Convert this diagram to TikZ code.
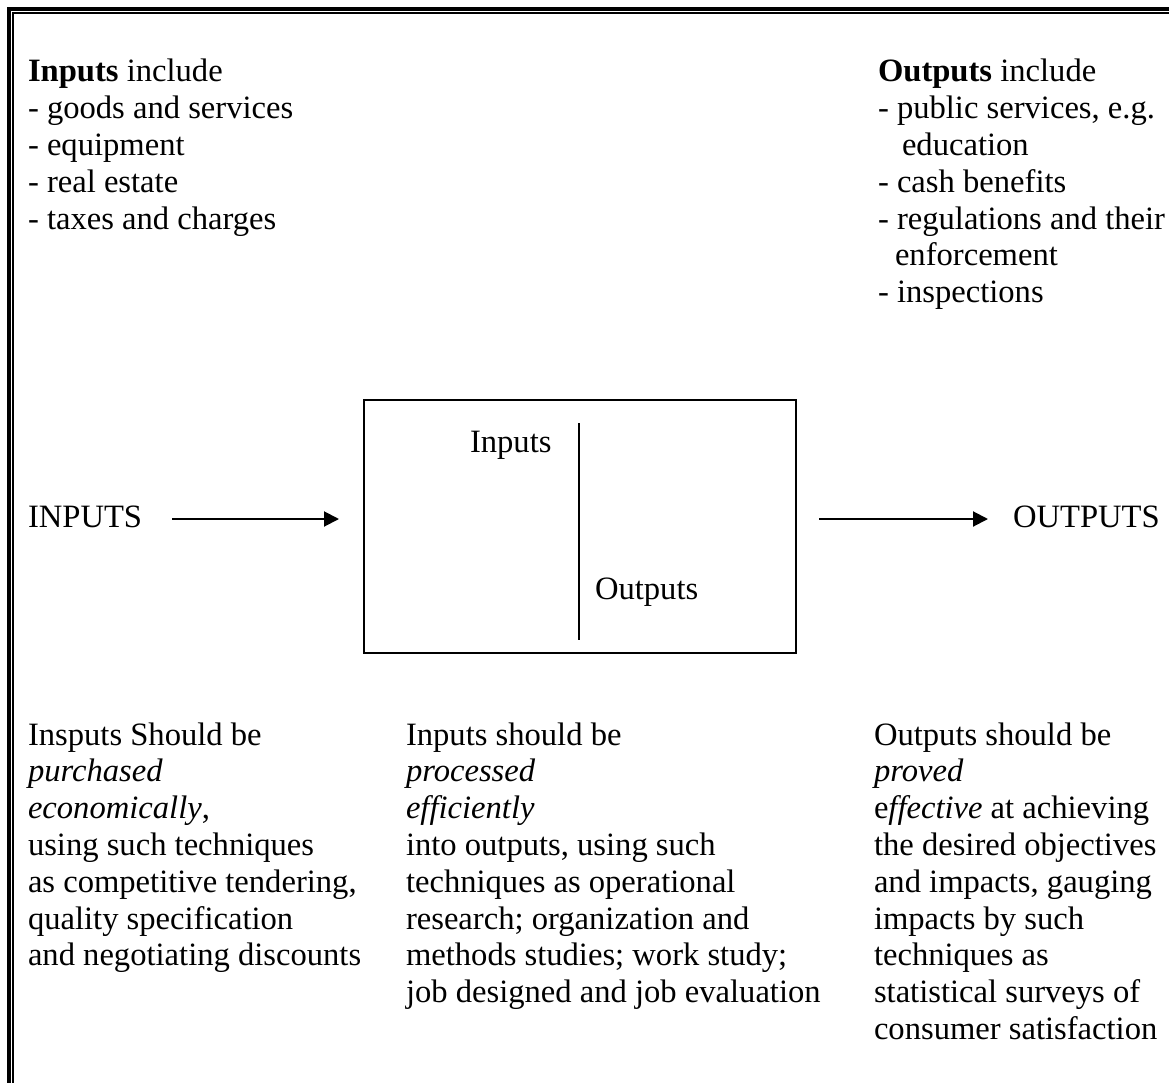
\documentclass[tikz,border=0pt]{standalone}
\usepackage{fontspec}
\setmainfont{Liberation Serif}
\usetikzlibrary{arrows.meta}

% text block whose base anchor is the baseline of its first line
\newcommand{\txtblock}[1]{\parbox[t]{420pt}{\raggedright #1}}

\begin{document}
\begin{tikzpicture}[x=1pt,y=-1pt,
  every node/.style={inner sep=0pt, outer sep=0pt,
    font=\fontsize{32.6}{36.8}\selectfont},
  txt/.style={anchor=base west},
  frameline/.style={line join=miter, line cap=butt},
  flow/.style={line width=2pt, -{Triangle[length=15pt,width=15pt]}},
  procbox/.style={draw, line width=2pt, minimum width=432pt, minimum height=253pt}
]
\useasboundingbox (0,0) rectangle (1169,1083);
\fill[white] (0,0) rectangle (1169,1083);

% double page frame (left and top)
\draw[frameline, line width=4.3pt] (9,1083) -- (9,9) -- (1169,9);
\draw[frameline, line width=1.8pt] (13.1,1083) -- (13.1,13.1) -- (1169,13.1);

% input / output lists
\node[txt] (inlist) at (28,82) {\txtblock{%
  \textbf{Inputs} include\\
  - goods and services\\
  - equipment\\
  - real estate\\
  - taxes and charges}};

\node[txt] (outlist) at (878,82) {\txtblock{%
  \textbf{Outputs} include\\
  - public services, e.g.\\
  \hspace*{24pt}education\\
  - cash benefits\\
  - regulations and their\\
  \hspace*{17pt}enforcement\\
  - inspections}};

% process box
\node[procbox] (box) at (580,526.5) {};
\draw[line width=2pt] ([xshift=-1pt,yshift=-23pt]box.north) -- ([xshift=-1pt,yshift=13pt]box.south);
\node[txt] (boxin) at (470,452) {Inputs};
\node[txt] (boxout) at (595,599) {Outputs};

% flow labels and arrows
\node[txt] (inp) at (28,527) {INPUTS};
\node[txt] (outp) at (1013,527) {OUTPUTS};
\draw[flow] ([xshift=30pt,yshift=8pt]inp.base east) -- ([xshift=-25pt,yshift=7.5pt]box.west);
\draw[flow] ([xshift=23pt,yshift=7.5pt]box.east) -- ([xshift=-25pt,yshift=8pt]outp.base west);

% explanatory columns
\node[txt] (econ) at (28,745) {\txtblock{%
  Insputs Should be\\
  \textit{purchased}\\
  \textit{economically},\\
  using such techniques\\
  as competitive tendering,\\
  quality specification\\
  and negotiating discounts}};

\node[txt] (effic) at (406,745) {\txtblock{%
  Inputs should be\\
  \textit{processed}\\
  \textit{efficiently}\\
  into outputs, using such\\
  techniques as operational\\
  research; organization and\\
  methods studies; work study;\\
  job designed and job evaluation}};

\node[txt] (effect) at (874,745) {\txtblock{%
  Outputs should be\\
  \textit{proved}\\
  e\textit{ffective} at achieving\\
  the desired objectives\\
  and impacts, gauging\\
  impacts by such\\
  techniques as\\
  statistical surveys of\\
  consumer satisfaction}};
\end{tikzpicture}
\end{document}
